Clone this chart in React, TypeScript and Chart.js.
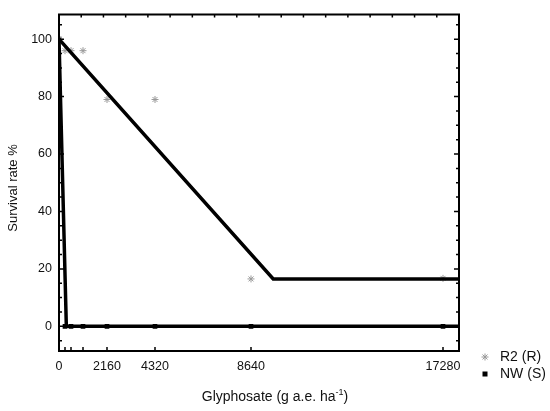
import React, { useEffect, useRef } from "react";
import { Chart, registerables } from "chart.js";

Chart.register(...registerables);

const doses = [0, 270, 540, 1080, 2160, 4320, 8640, 17280];
const r2Survival = [100, 96, 96, 96, 79, 79, 16.5, 16.7];
const nwSurvival = [100, 0, 0, 0, 0, 0, 0, 0];
const r2FitX = [0, 9640, 18000];
const r2FitY = [100, 16.5, 16.5];
const nwFitX = [0, 330, 18000];
const nwFitY = [100, 0, 0];
const xTickLabels = [0, 2160, 4320, 8640, 17280];
const yTickLabels = [0, 20, 40, 60, 80, 100];
const seriesNames = ["R2 (R)", "NW (S)"];

const FONT = "'Liberation Sans', Arial, sans-serif";

const framePlugin = {
  id: "frame",
  afterDatasetsDraw(chart: any) {
    const { ctx, chartArea: a, scales } = chart;
    const x = scales.x;
    const y = scales.y;
    ctx.save();
    ctx.strokeStyle = "#000";
    ctx.lineWidth = 2;
    ctx.strokeRect(a.left, a.top, a.right - a.left, a.bottom - a.top);
    ctx.lineWidth = 1.5;
    ctx.beginPath();
    doses.forEach((d) => {
      const px = x.getPixelForValue(d);
      ctx.moveTo(px, a.bottom);
      ctx.lineTo(px, a.bottom - 4);
    });
    for (let v = 1000; v < 18000; v += 1000) {
      const px = x.getPixelForValue(v);
      ctx.moveTo(px, a.top);
      ctx.lineTo(px, a.top + 3);
    }
    for (let v = -5; v <= 105; v += 5) {
      const py = y.getPixelForValue(v);
      const len = v % 20 === 0 ? 5 : 3;
      ctx.moveTo(a.left, py);
      ctx.lineTo(a.left + len, py);
      ctx.moveTo(a.right, py);
      ctx.lineTo(a.right - len, py);
    }
    ctx.stroke();
    ctx.restore();
  },
  afterDraw(chart: any) {
    const { ctx } = chart;
    ctx.save();
    ctx.fillStyle = "#111";
    ctx.font = `13px ${FONT}`;
    ctx.textAlign = "center";
    ctx.textBaseline = "middle";
    ctx.translate(13, 188);
    ctx.rotate(-Math.PI / 2);
    ctx.fillText("Survival rate %", 0, 0);
    ctx.restore();

    ctx.save();
    ctx.fillStyle = "#111";
    ctx.textBaseline = "alphabetic";
    ctx.textAlign = "left";
    const main = "Glyphosate (g a.e. ha";
    const sup = "-1";
    const end = ")";
    ctx.font = `14px ${FONT}`;
    const w1 = ctx.measureText(main).width;
    const w3 = ctx.measureText(end).width;
    ctx.font = `9px ${FONT}`;
    const w2 = ctx.measureText(sup).width;
    const total = w1 + w2 + w3;
    let sx = 275 - total / 2;
    const base = 401;
    ctx.font = `14px ${FONT}`;
    ctx.fillText(main, sx, base);
    sx += w1;
    ctx.font = `9px ${FONT}`;
    ctx.fillText(sup, sx, base - 6);
    sx += w2;
    ctx.font = `14px ${FONT}`;
    ctx.fillText(end, sx, base);

    ctx.textBaseline = "middle";
    ctx.font = `14px ${FONT}`;
    ctx.fillText(seriesNames[0], 500, 357);
    ctx.fillText(seriesNames[1], 500, 374);
    ctx.strokeStyle = "#999";
    ctx.lineWidth = 1;
    const cx = 485, cy = 357, r = 3.5;
    ctx.beginPath();
    for (let k = 0; k < 4; k++) {
      const ang = (k * Math.PI) / 4;
      ctx.moveTo(cx - r * Math.cos(ang), cy - r * Math.sin(ang));
      ctx.lineTo(cx + r * Math.cos(ang), cy + r * Math.sin(ang));
    }
    ctx.stroke();
    ctx.fillStyle = "#000";
    ctx.fillRect(482.5, 371.5, 5, 5);
    ctx.restore();
  },
};

export default function App() {
  const ref = useRef<HTMLCanvasElement>(null);
  useEffect(() => {
    const prevMargin = document.body.style.margin;
    document.body.style.margin = "0";
    const chart = new Chart(ref.current as HTMLCanvasElement, {
      type: "scatter",
      data: {
        datasets: [
          {
            label: "R2 fit",
            data: r2FitX.map((v, i) => ({ x: v, y: r2FitY[i] })),
            showLine: true,
            borderColor: "#000",
            borderWidth: 3.5,
            pointRadius: 0,
            fill: false,
          },
          {
            label: "NW fit",
            data: nwFitX.map((v, i) => ({ x: v, y: nwFitY[i] })),
            showLine: true,
            borderColor: "#000",
            borderWidth: 3.5,
            pointRadius: 0,
            fill: false,
          },
          {
            label: seriesNames[0],
            data: doses.map((v, i) => ({ x: v, y: r2Survival[i] })),
            pointStyle: "star",
            pointRadius: 3.5,
            borderColor: "#999",
            backgroundColor: "#999",
            borderWidth: 1,
          },
          {
            label: seriesNames[1],
            data: doses.map((v, i) => ({ x: v, y: nwSurvival[i] })),
            pointStyle: "rect",
            pointRadius: 3.3,
            borderColor: "#000",
            backgroundColor: "#000",
            borderWidth: 0,
          },
        ],
      },
      options: {
        animation: false,
        responsive: true,
        maintainAspectRatio: false,
        layout: { padding: { top: 9, right: 91, left: 0, bottom: 0 } },
        plugins: {
          legend: { display: false },
          tooltip: { enabled: false },
        },
        scales: {
          x: {
            type: "linear",
            min: 0,
            max: 18000,
            grid: { display: false, drawTicks: false },
            border: { display: false },
            afterBuildTicks: (scale: any) => {
              scale.ticks = xTickLabels.map((v) => ({ value: v }));
            },
            afterFit: (scale: any) => {
              scale.height = 60;
            },
            ticks: {
              padding: 8,
              maxRotation: 0,
              autoSkip: false,
              color: "#111",
              font: { family: FONT, size: 12.5 },
              callback: (v: any) => String(v),
            },
          },
          y: {
            type: "linear",
            min: -8.6,
            max: 108.6,
            grid: { display: false, drawTicks: false },
            border: { display: false },
            afterBuildTicks: (scale: any) => {
              scale.ticks = yTickLabels.map((v) => ({ value: v }));
            },
            afterFit: (scale: any) => {
              scale.width = 59;
            },
            ticks: {
              padding: 7,
              color: "#111",
              font: { family: FONT, size: 12.5 },
              callback: (v: any) => String(v),
            },
          },
        },
      },
      plugins: [framePlugin],
    });
    return () => {
      chart.destroy();
      document.body.style.margin = prevMargin;
    };
  }, []);
  return (
    <div style={{ position: "absolute", left: 0, top: 0, width: 550, height: 411, background: "#fff" }}>
      <canvas ref={ref} />
    </div>
  );
}
